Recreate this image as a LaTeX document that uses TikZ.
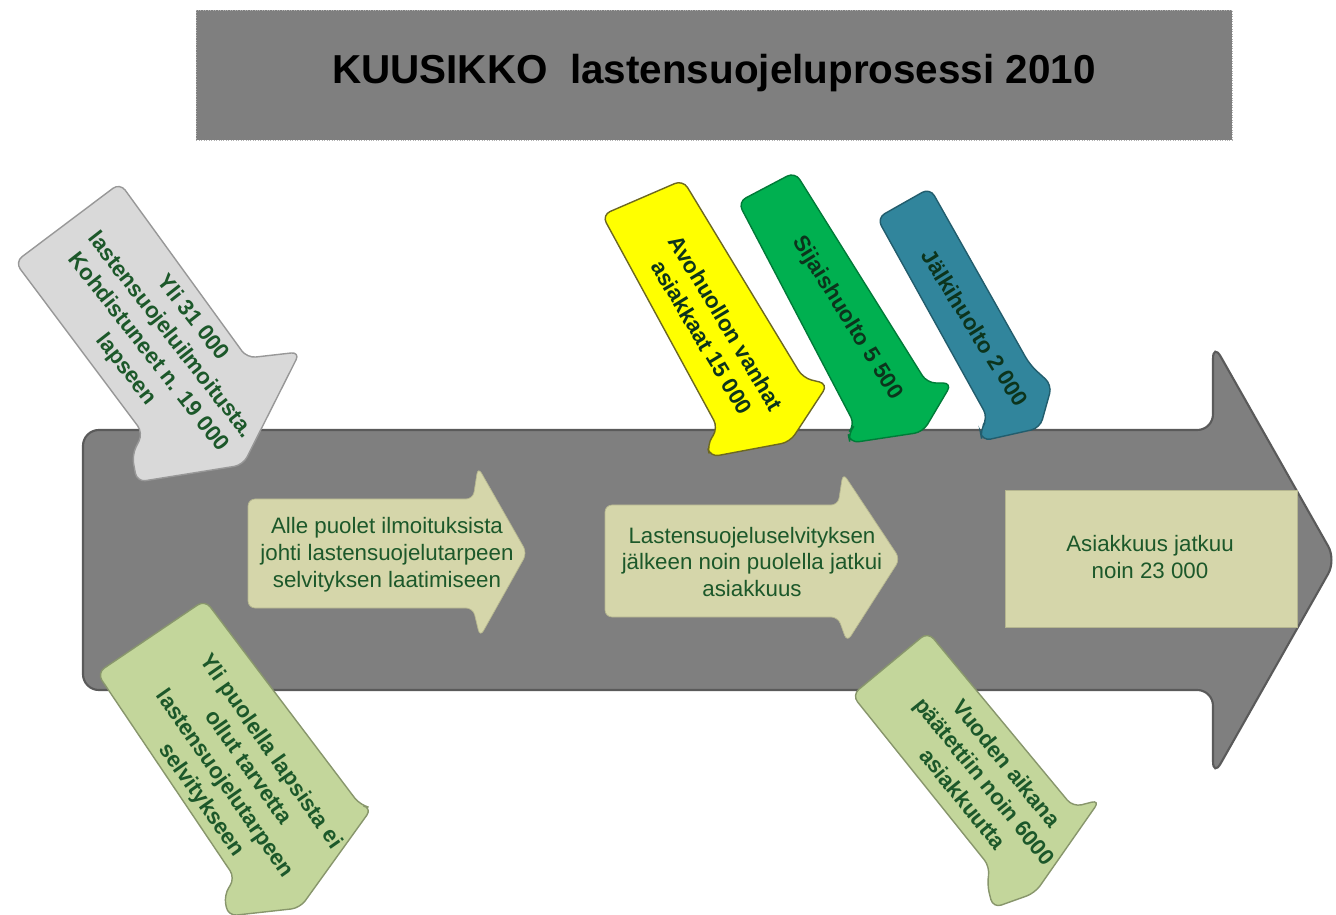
\documentclass[tikz,border=0pt]{standalone}
\usepackage{fontspec}
\setmainfont{Liberation Sans}

\definecolor{bandgray}{RGB}{127,127,127}
\definecolor{bandedge}{RGB}{90,90,90}
\definecolor{notegray}{RGB}{217,217,217}
\definecolor{sunyellow}{RGB}{255,255,0}
\definecolor{leafgreen}{RGB}{0,176,80}
\definecolor{tealblue}{RGB}{49,133,156}
\definecolor{palegreen}{RGB}{195,214,155}
\definecolor{khaki}{RGB}{213,214,170}
\definecolor{txtgreen}{RGB}{28,88,42}
\definecolor{deepgreen}{RGB}{12,52,28}

\begin{document}
\begin{tikzpicture}[x=0.02cm, y=-0.02cm, thick,
  tilttext/.style={align=center, text=txtgreen,
    font=\fontsize{12.7pt}{16pt}\selectfont\bfseries},
  flattext/.style={align=center, text=txtgreen,
    font=\fontsize{12.7pt}{15.3pt}\selectfont},
  sidearrow/.style={rounded corners=5pt, draw=#1!70!black, line width=0.8pt}]

  \useasboundingbox (0,0) rectangle (1336,915);

  % Title bar
  \fill[bandgray, draw=gray!60, thin, densely dotted] (196,10) rectangle (1232,140);
  \node[font=\fontsize{23pt}{27pt}\selectfont\bfseries] (title) at (714,73)
    {KUUSIKKO\ \ lastensuojeluprosessi 2010};

  % Big process arrow
  \filldraw[bandgray, draw=bandedge, line width=1.2pt, rounded corners=9pt]
    (83,430) -- (1213,430) -- (1213,343) -- (1336,560)
    -- (1213,777) -- (1213,690) -- (83,690) -- cycle;

  % Inner steps
  \filldraw[khaki, draw=khaki!85!black, thin, rounded corners=4pt]
    (248,499) -- (473,499) -- (478,467) -- (527,553)
    -- (480,637) -- (473,608) -- (248,608) -- cycle;
  \node[flattext] (alle) at (387,555)
    {Alle puolet ilmoituksista\\johti lastensuojelutarpeen\\selvityksen laatimiseen};

  \filldraw[khaki, draw=khaki!85!black, thin, rounded corners=4pt]
    (605,505) -- (838,505) -- (843,473) -- (900,559)
    -- (847,642) -- (838,617) -- (605,617) -- cycle;
  \node[flattext] (lasten) at (752,562)
    {Lastensuojeluselvityksen\\jälkeen noin puolella jatkui\\asiakkuus};

  \filldraw[khaki, draw=khaki!85!black, thin] (1005,490) rectangle (1297,627);
  \node[flattext] (asiak) at (1150,557) {Asiakkuus jatkuu\\noin 23 000};

  % Incoming notifications
  \filldraw[notegray, sidearrow=notegray]
    (15,262) -- (120,183) -- (247,358) -- (300,352) -- (243,465)
    -- (137,482) -- (132,455) -- (143,433) -- cycle;
  \node[tilttext, rotate=-52] (yli) at (159,344)
    {Yli 31 000\\lastensuojeluilmoitusta.\\Kohdistuneet n. 19 000\\lapseen};

  % Client groups coming in from above
  \filldraw[sunyellow, sidearrow=olive]
    (602,215) -- (683,180) -- (803,378) -- (828,384) -- (790,442)
    -- (710,457) -- (707,445) -- (718,428) -- cycle;
  \node[tilttext, text=deepgreen, rotate=-59] (avo) at (714,330)
    {Avohuollon vanhat\\asiakkaat 15 000};

  \filldraw[leafgreen, sidearrow=leafgreen]
    (738,202) -- (795,172) -- (927,383) -- (952,383) -- (923,432)
    -- (850,443) -- (848,433) -- (855,425) -- cycle;
  \node[tilttext, text=deepgreen, rotate=-58] (sijais) at (847,318)
    {Sijaishuolto 5 500};

  \filldraw[tealblue, sidearrow=tealblue]
    (877,218) -- (930,188) -- (1030,365) -- (1052,385) -- (1040,428)
    -- (982,441) -- (980,430) -- (988,418) -- cycle;
  \node[tilttext, text=deepgreen, rotate=-58] (jalki) at (975,328)
    {Jälkihuolto 2 000};

  % Leaving the process below
  \filldraw[palegreen, sidearrow=palegreen]
    (97,673) -- (205,600) -- (360,805) -- (372,808) -- (300,908)
    -- (228,916) -- (224,895) -- (235,878) -- cycle;
  \node[tilttext, rotate=-55] (puolella) at (236,776)
    {Yli puolella lapsista ei\\ollut tarvetta\\lastensuojelutarpeen\\selvitykseen};

  \filldraw[palegreen, sidearrow=palegreen]
    (852,695) -- (928,632) -- (1073,807) -- (1100,800) -- (1035,893)
    -- (993,908) -- (987,884) -- (990,867) -- cycle;
  \node[tilttext, rotate=-51] (vuoden) at (985,781)
    {Vuoden aikana\\päätettiin noin 6000\\asiakkuutta};

\end{tikzpicture}
\end{document}
